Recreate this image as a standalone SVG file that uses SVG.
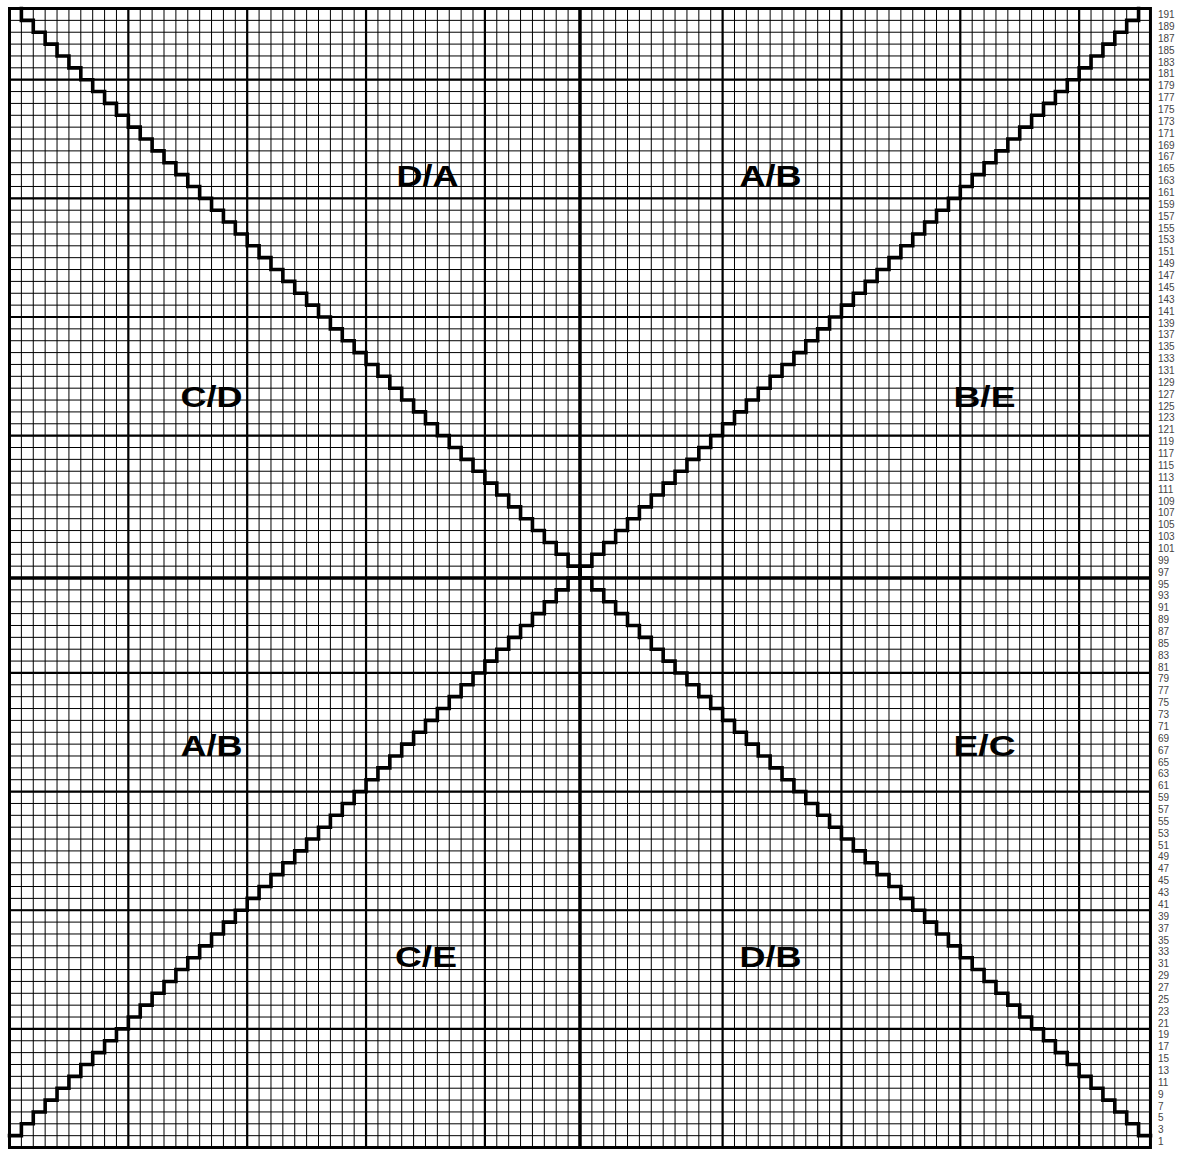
<svg xmlns="http://www.w3.org/2000/svg" width="1181" height="1149" viewBox="0 0 1181 1149">
<style>
.g path, .g rect { fill: none; stroke: #000; vector-effect: non-scaling-stroke; }
.thin { stroke-width: 1; }
.heavy { stroke-width: 2.2; }
.center { stroke-width: 3.5; }
.border { stroke-width: 3; }
.diag { stroke-width: 3.6; stroke-linejoin: miter; stroke-linecap: square; }
.num { font-family: "Liberation Sans", Arial, sans-serif; font-size: 10px; fill: #444; }
.lbl { font-family: "Liberation Sans", Arial, sans-serif; font-size: 29px; font-weight: bold; fill: #000; text-anchor: middle; }
</style>
<rect width="1181" height="1149" fill="#fff"/>
<g id="grid" class="g" transform="translate(9.5,8.5) scale(11.885,11.865)">
<path class="thin" d="M1 0V96M2 0V96M3 0V96M4 0V96M5 0V96M6 0V96M7 0V96M8 0V96M9 0V96M10 0V96M11 0V96M12 0V96M13 0V96M14 0V96M15 0V96M16 0V96M17 0V96M18 0V96M19 0V96M20 0V96M21 0V96M22 0V96M23 0V96M24 0V96M25 0V96M26 0V96M27 0V96M28 0V96M29 0V96M30 0V96M31 0V96M32 0V96M33 0V96M34 0V96M35 0V96M36 0V96M37 0V96M38 0V96M39 0V96M40 0V96M41 0V96M42 0V96M43 0V96M44 0V96M45 0V96M46 0V96M47 0V96M48 0V96M49 0V96M50 0V96M51 0V96M52 0V96M53 0V96M54 0V96M55 0V96M56 0V96M57 0V96M58 0V96M59 0V96M60 0V96M61 0V96M62 0V96M63 0V96M64 0V96M65 0V96M66 0V96M67 0V96M68 0V96M69 0V96M70 0V96M71 0V96M72 0V96M73 0V96M74 0V96M75 0V96M76 0V96M77 0V96M78 0V96M79 0V96M80 0V96M81 0V96M82 0V96M83 0V96M84 0V96M85 0V96M86 0V96M87 0V96M88 0V96M89 0V96M90 0V96M91 0V96M92 0V96M93 0V96M94 0V96M95 0V96"/>
<path class="thin" d="M0 1H96M0 2H96M0 3H96M0 4H96M0 5H96M0 6H96M0 7H96M0 8H96M0 9H96M0 10H96M0 11H96M0 12H96M0 13H96M0 14H96M0 15H96M0 16H96M0 17H96M0 18H96M0 19H96M0 20H96M0 21H96M0 22H96M0 23H96M0 24H96M0 25H96M0 26H96M0 27H96M0 28H96M0 29H96M0 30H96M0 31H96M0 32H96M0 33H96M0 34H96M0 35H96M0 36H96M0 37H96M0 38H96M0 39H96M0 40H96M0 41H96M0 42H96M0 43H96M0 44H96M0 45H96M0 46H96M0 47H96M0 48H96M0 49H96M0 50H96M0 51H96M0 52H96M0 53H96M0 54H96M0 55H96M0 56H96M0 57H96M0 58H96M0 59H96M0 60H96M0 61H96M0 62H96M0 63H96M0 64H96M0 65H96M0 66H96M0 67H96M0 68H96M0 69H96M0 70H96M0 71H96M0 72H96M0 73H96M0 74H96M0 75H96M0 76H96M0 77H96M0 78H96M0 79H96M0 80H96M0 81H96M0 82H96M0 83H96M0 84H96M0 85H96M0 86H96M0 87H96M0 88H96M0 89H96M0 90H96M0 91H96M0 92H96M0 93H96M0 94H96M0 95H96"/>
<path class="heavy" d="M10 0V96M20 0V96M30 0V96M40 0V96M60 0V96M70 0V96M80 0V96M90 0V96M0 6H96M0 16H96M0 26H96M0 36H96M0 56H96M0 66H96M0 76H96M0 86H96"/>
<path class="center" d="M48 0V96M0 48H96"/>
<rect class="border" x="0" y="0" width="96" height="96"/>
</g>
<g id="connectors" class="g" transform="translate(9.5,8.5) scale(11.885,11.865)">
<path id="diag-top-left" class="diag" d="M1 0
v1h1 v1h1 v1h1 v1h1 v1h1 v1h1 v1h1 v1h1 v1h1 v1h1
v1h1 v1h1 v1h1 v1h1 v1h1 v1h1 v1h1 v1h1 v1h1 v1h1
v1h1 v1h1 v1h1 v1h1 v1h1 v1h1 v1h1 v1h1 v1h1 v1h1
v1h1 v1h1 v1h1 v1h1 v1h1 v1h1 v1h1 v1h1 v1h1 v1h1
v1h1 v1h1 v1h1 v1h1 v1h1 v1h1 v1h1
v1"/>
<path id="diag-top-right" class="diag" d="M95 0
v1h-1 v1h-1 v1h-1 v1h-1 v1h-1 v1h-1 v1h-1 v1h-1 v1h-1 v1h-1
v1h-1 v1h-1 v1h-1 v1h-1 v1h-1 v1h-1 v1h-1 v1h-1 v1h-1 v1h-1
v1h-1 v1h-1 v1h-1 v1h-1 v1h-1 v1h-1 v1h-1 v1h-1 v1h-1 v1h-1
v1h-1 v1h-1 v1h-1 v1h-1 v1h-1 v1h-1 v1h-1 v1h-1 v1h-1 v1h-1
v1h-1 v1h-1 v1h-1 v1h-1 v1h-1 v1h-1 v1h-1
v1"/>
<path id="diag-bottom-left" class="diag" d="M0 95
h1v-1 h1v-1 h1v-1 h1v-1 h1v-1 h1v-1 h1v-1 h1v-1 h1v-1 h1v-1
h1v-1 h1v-1 h1v-1 h1v-1 h1v-1 h1v-1 h1v-1 h1v-1 h1v-1 h1v-1
h1v-1 h1v-1 h1v-1 h1v-1 h1v-1 h1v-1 h1v-1 h1v-1 h1v-1 h1v-1
h1v-1 h1v-1 h1v-1 h1v-1 h1v-1 h1v-1 h1v-1 h1v-1 h1v-1 h1v-1
h1v-1 h1v-1 h1v-1 h1v-1 h1v-1 h1v-1 h1v-1
h1"/>
<path id="diag-bottom-right" class="diag" d="M96 95
h-1v-1 h-1v-1 h-1v-1 h-1v-1 h-1v-1 h-1v-1 h-1v-1 h-1v-1 h-1v-1 h-1v-1
h-1v-1 h-1v-1 h-1v-1 h-1v-1 h-1v-1 h-1v-1 h-1v-1 h-1v-1 h-1v-1 h-1v-1
h-1v-1 h-1v-1 h-1v-1 h-1v-1 h-1v-1 h-1v-1 h-1v-1 h-1v-1 h-1v-1 h-1v-1
h-1v-1 h-1v-1 h-1v-1 h-1v-1 h-1v-1 h-1v-1 h-1v-1 h-1v-1 h-1v-1 h-1v-1
h-1v-1 h-1v-1 h-1v-1 h-1v-1 h-1v-1 h-1v-1 h-1v-1
h-1"/>
</g>
<g id="labels">
<text id="lbl-da" class="lbl" x="427.5" y="186" textLength="62" lengthAdjust="spacingAndGlyphs">D/A</text>
<text id="lbl-ab-top" class="lbl" x="770.5" y="186" textLength="62" lengthAdjust="spacingAndGlyphs">A/B</text>
<text id="lbl-cd" class="lbl" x="211.5" y="407" textLength="62" lengthAdjust="spacingAndGlyphs">C/D</text>
<text id="lbl-be" class="lbl" x="984.5" y="407" textLength="62" lengthAdjust="spacingAndGlyphs">B/E</text>
<text id="lbl-ab-left" class="lbl" x="211.5" y="756" textLength="62" lengthAdjust="spacingAndGlyphs">A/B</text>
<text id="lbl-ec" class="lbl" x="984.5" y="756" textLength="62" lengthAdjust="spacingAndGlyphs">E/C</text>
<text id="lbl-ce" class="lbl" x="426" y="967" textLength="62" lengthAdjust="spacingAndGlyphs">C/E</text>
<text id="lbl-db" class="lbl" x="770.5" y="967" textLength="62" lengthAdjust="spacingAndGlyphs">D/B</text>
</g>
<g id="row-numbers" class="num">
<text x="1158" y="18.0">191</text>
<text x="1158" y="29.9">189</text>
<text x="1158" y="41.7">187</text>
<text x="1158" y="53.6">185</text>
<text x="1158" y="65.5">183</text>
<text x="1158" y="77.3">181</text>
<text x="1158" y="89.2">179</text>
<text x="1158" y="101.1">177</text>
<text x="1158" y="112.9">175</text>
<text x="1158" y="124.8">173</text>
<text x="1158" y="136.7">171</text>
<text x="1158" y="148.5">169</text>
<text x="1158" y="160.4">167</text>
<text x="1158" y="172.2">165</text>
<text x="1158" y="184.1">163</text>
<text x="1158" y="196.0">161</text>
<text x="1158" y="207.8">159</text>
<text x="1158" y="219.7">157</text>
<text x="1158" y="231.6">155</text>
<text x="1158" y="243.4">153</text>
<text x="1158" y="255.3">151</text>
<text x="1158" y="267.2">149</text>
<text x="1158" y="279.0">147</text>
<text x="1158" y="290.9">145</text>
<text x="1158" y="302.8">143</text>
<text x="1158" y="314.6">141</text>
<text x="1158" y="326.5">139</text>
<text x="1158" y="338.4">137</text>
<text x="1158" y="350.2">135</text>
<text x="1158" y="362.1">133</text>
<text x="1158" y="374.0">131</text>
<text x="1158" y="385.8">129</text>
<text x="1158" y="397.7">127</text>
<text x="1158" y="409.5">125</text>
<text x="1158" y="421.4">123</text>
<text x="1158" y="433.3">121</text>
<text x="1158" y="445.1">119</text>
<text x="1158" y="457.0">117</text>
<text x="1158" y="468.9">115</text>
<text x="1158" y="480.7">113</text>
<text x="1158" y="492.6">111</text>
<text x="1158" y="504.5">109</text>
<text x="1158" y="516.3">107</text>
<text x="1158" y="528.2">105</text>
<text x="1158" y="540.1">103</text>
<text x="1158" y="551.9">101</text>
<text x="1158" y="563.8">99</text>
<text x="1158" y="575.7">97</text>
<text x="1158" y="587.5">95</text>
<text x="1158" y="599.4">93</text>
<text x="1158" y="611.3">91</text>
<text x="1158" y="623.1">89</text>
<text x="1158" y="635.0">87</text>
<text x="1158" y="646.8">85</text>
<text x="1158" y="658.7">83</text>
<text x="1158" y="670.6">81</text>
<text x="1158" y="682.4">79</text>
<text x="1158" y="694.3">77</text>
<text x="1158" y="706.2">75</text>
<text x="1158" y="718.0">73</text>
<text x="1158" y="729.9">71</text>
<text x="1158" y="741.8">69</text>
<text x="1158" y="753.6">67</text>
<text x="1158" y="765.5">65</text>
<text x="1158" y="777.4">63</text>
<text x="1158" y="789.2">61</text>
<text x="1158" y="801.1">59</text>
<text x="1158" y="813.0">57</text>
<text x="1158" y="824.8">55</text>
<text x="1158" y="836.7">53</text>
<text x="1158" y="848.6">51</text>
<text x="1158" y="860.4">49</text>
<text x="1158" y="872.3">47</text>
<text x="1158" y="884.1">45</text>
<text x="1158" y="896.0">43</text>
<text x="1158" y="907.9">41</text>
<text x="1158" y="919.7">39</text>
<text x="1158" y="931.6">37</text>
<text x="1158" y="943.5">35</text>
<text x="1158" y="955.3">33</text>
<text x="1158" y="967.2">31</text>
<text x="1158" y="979.1">29</text>
<text x="1158" y="990.9">27</text>
<text x="1158" y="1002.8">25</text>
<text x="1158" y="1014.7">23</text>
<text x="1158" y="1026.5">21</text>
<text x="1158" y="1038.4">19</text>
<text x="1158" y="1050.3">17</text>
<text x="1158" y="1062.1">15</text>
<text x="1158" y="1074.0">13</text>
<text x="1158" y="1085.9">11</text>
<text x="1158" y="1097.7">9</text>
<text x="1158" y="1109.6">7</text>
<text x="1158" y="1121.4">5</text>
<text x="1158" y="1133.3">3</text>
<text x="1158" y="1145.2">1</text>
</g>
</svg>
